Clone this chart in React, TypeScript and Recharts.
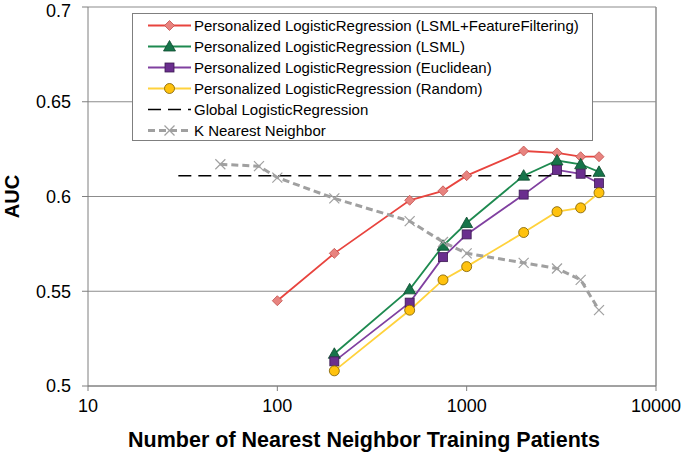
import { LineChart, Line, XAxis, YAxis, CartesianGrid, Legend, ReferenceLine, Label } from 'recharts'

// training set sizes (x) per series
const N_PERSONAL = [200, 500, 750, 1000, 2000, 3000, 4000, 5000]
const N_FF = [100, 200, 500, 750, 1000, 2000, 3000, 4000, 5000]
const N_KNN = [50, 80, 100, 200, 500, 750, 1000, 2000, 3000, 4000, 5000]
const N_GLOBAL = [30, 5000]

// AUC values
const AUC_FF = [0.545, 0.570, 0.598, 0.603, 0.611, 0.624, 0.623, 0.621, 0.621]
const AUC_LSML = [0.517, 0.551, 0.574, 0.586, 0.611, 0.619, 0.617, 0.613]
const AUC_EUCLID = [0.513, 0.544, 0.568, 0.580, 0.601, 0.614, 0.612, 0.607]
const AUC_RANDOM = [0.508, 0.540, 0.556, 0.563, 0.581, 0.592, 0.594, 0.602]
const AUC_KNN = [0.617, 0.616, 0.610, 0.599, 0.587, 0.576, 0.570, 0.565, 0.562, 0.556, 0.540]
const AUC_GLOBAL = [0.611, 0.611]

const X_TICKS = [10, 100, 1000, 10000]
const Y_TICKS = [0.5, 0.55, 0.6, 0.65, 0.7]

const pts = (xs: number[], ys: number[]) => xs.map((n, i) => ({ n, auc: ys[i] }))

type Kind = 'diamond' | 'triangle' | 'square' | 'circle' | 'cross' | 'none'

const SERIES = [
  { name: 'Personalized LogisticRegression (LSML+FeatureFiltering)', data: pts(N_FF, AUC_FF), color: '#E8443E', kind: 'diamond' as Kind, fill: '#E8837F', edge: '#C0504D', dash: undefined as string | undefined, width: 1.8 },
  { name: 'Personalized LogisticRegression (LSML)', data: pts(N_PERSONAL, AUC_LSML), color: '#1E8A50', kind: 'triangle' as Kind, fill: '#17744A', edge: '#0E4A2E', dash: undefined, width: 1.8 },
  { name: 'Personalized LogisticRegression (Euclidean)', data: pts(N_PERSONAL, AUC_EUCLID), color: '#8040A0', kind: 'square' as Kind, fill: '#6A2E8E', edge: '#3C1A52', dash: undefined, width: 1.8 },
  { name: 'Personalized LogisticRegression (Random)', data: pts(N_PERSONAL, AUC_RANDOM), color: '#FFD23C', kind: 'circle' as Kind, fill: '#FFC20E', edge: '#7A5C00', dash: undefined, width: 1.8 },
  { name: 'Global LogisticRegression', data: pts(N_GLOBAL, AUC_GLOBAL), color: '#000000', kind: 'none' as Kind, fill: 'none', edge: 'none', dash: '13 7', width: 1.5 },
  { name: 'K Nearest Neighbor', data: pts(N_KNN, AUC_KNN), color: '#A0A0A0', kind: 'cross' as Kind, fill: 'none', edge: '#A0A0A0', dash: '7 4', width: 3 },
]

function marker(kind: Kind, cx: number, cy: number, fill: string, edge: string, key?: string | number) {
  switch (kind) {
    case 'diamond':
      return <polygon key={key} points={`${cx},${cy - 5} ${cx + 5},${cy} ${cx},${cy + 5} ${cx - 5},${cy}`} fill={fill} stroke={edge} strokeWidth={0.8} />
    case 'triangle':
      return <polygon key={key} points={`${cx},${cy - 6} ${cx + 6},${cy + 4.5} ${cx - 6},${cy + 4.5}`} fill={fill} stroke={edge} strokeWidth={0.8} />
    case 'square':
      return <rect key={key} x={cx - 4.5} y={cy - 4.5} width={9} height={9} fill={fill} stroke={edge} strokeWidth={0.8} />
    case 'circle':
      return <circle key={key} cx={cx} cy={cy} r={5} fill={fill} stroke={edge} strokeWidth={0.8} />
    case 'cross':
      return (
        <g key={key} stroke={edge} strokeWidth={1.2}>
          <line x1={cx - 5} y1={cy - 5} x2={cx + 5} y2={cy + 5} />
          <line x1={cx - 5} y1={cy + 5} x2={cx + 5} y2={cy - 5} />
        </g>
      )
    default:
      return <g key={key} />
  }
}

function LegendBox() {
  return (
    <div style={{ width: 459, height: 125, border: '1px solid #7f7f7f', background: '#fff', paddingTop: 1 }}>
      {SERIES.map(s => (
        <div key={s.name} style={{ height: 21, display: 'flex', alignItems: 'center' }}>
          <svg width={61} height={21} style={{ flex: 'none' }}>
            <line x1={15} y1={10.5} x2={58} y2={10.5} stroke={s.color} strokeWidth={s.width} strokeDasharray={s.dash} />
            {marker(s.kind, 36.5, 10.5, s.fill, s.edge)}
          </svg>
          <span style={{ fontSize: 15, color: '#000', whiteSpace: 'nowrap' }}>{s.name}</span>
        </div>
      ))}
    </div>
  )
}

export default function App() {
  return (
    <div style={{ position: 'absolute', left: 0, top: 0, fontFamily: '"Liberation Sans", Arial, sans-serif' }}>
      <LineChart width={683} height={457} margin={{ top: 7, right: 27, bottom: 41, left: 0 }}>
        <CartesianGrid vertical={false} stroke="#8c8c8c" strokeWidth={1.2} />
        <ReferenceLine x={10000} stroke="#8c8c8c" strokeWidth={1.5} />
        <XAxis
          dataKey="n"
          type="number"
          scale="log"
          domain={[10, 10000]}
          ticks={X_TICKS}
          allowDataOverflow
          height={30}
          stroke="#7f7f7f"
          tickSize={5}
          tickMargin={8}
          tick={{ fill: '#000', fontSize: 18 }}
        >
          <Label value="Number of Nearest Neighbor Training Patients" position="bottom" offset={16} dx={-8}
            style={{ fontSize: 21.5, fontWeight: 700, fill: '#000' }} />
        </XAxis>
        <YAxis
          type="number"
          domain={[0.5, 0.7]}
          ticks={Y_TICKS}
          width={88}
          stroke="#7f7f7f"
          tickSize={6}
          tickMargin={11}
          tick={{ fill: '#000', fontSize: 18 }}
        >
          <Label value="AUC" angle={-90} position="insideLeft" offset={12} textAnchor="middle"
            style={{ fontSize: 20, fontWeight: 700, fill: '#000' }} />
        </YAxis>
        <Legend
          layout="vertical"
          align="center"
          verticalAlign="middle"
          content={() => <LegendBox />}
          wrapperStyle={{ left: 132, top: 13, width: 461 }}
        />
        {SERIES.map(s => (
          <Line
            key={s.name}
            name={s.name}
            data={s.data}
            dataKey="auc"
            type="linear"
            stroke={s.color}
            strokeWidth={s.width}
            strokeDasharray={s.dash}
            dot={(p: any) => marker(s.kind, p.cx, p.cy, s.fill, s.edge, p.key ?? p.index)}
            activeDot={false}
            isAnimationActive={false}
          />
        ))}
      </LineChart>
    </div>
  )
}
